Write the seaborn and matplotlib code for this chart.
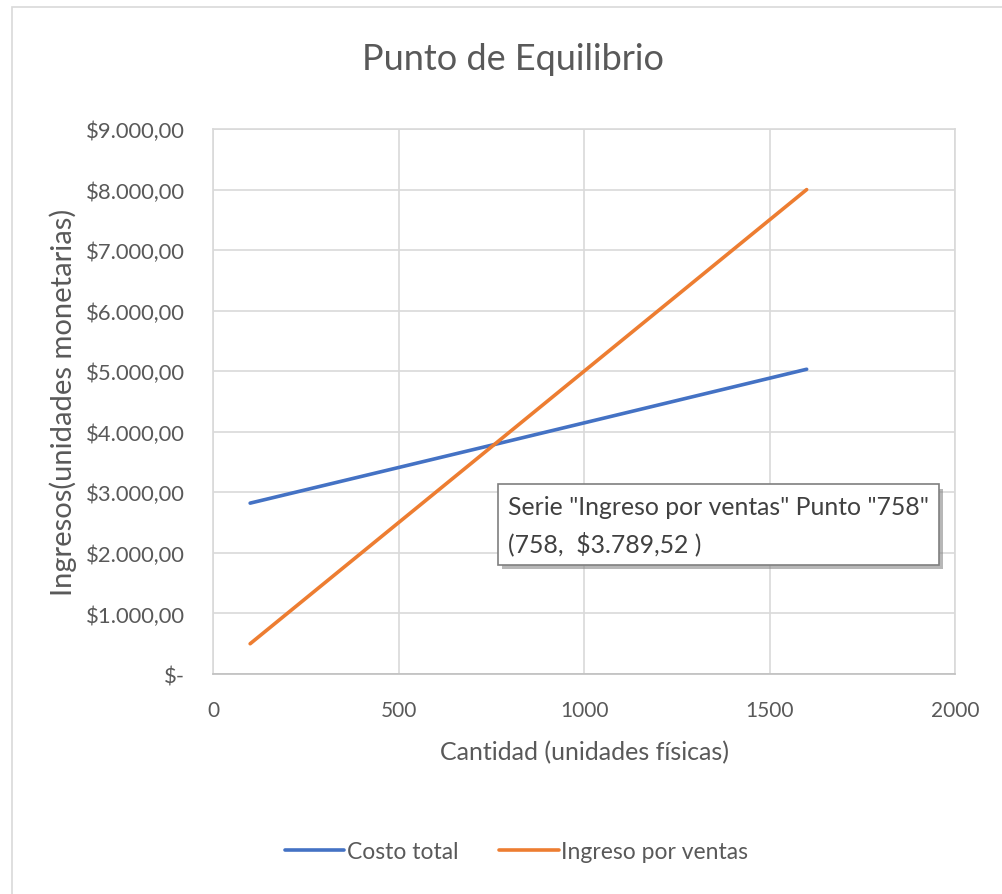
import matplotlib
matplotlib.use("Agg")
import matplotlib.pyplot as plt
import matplotlib.patheffects as pe
from matplotlib.patches import Rectangle
from matplotlib.lines import Line2D
from matplotlib.ticker import FuncFormatter
import seaborn as sns
import pandas as pd

# Break-even data: quantity vs. total cost and sales revenue
cantidad = [100, 758, 1600]
costo_total = [2822, 3789.52, 5033]
ingreso_ventas = [500, 3789.52, 8000]
punto_cantidad = 758
punto_valor = 3789.52

df = pd.DataFrame({
    "Cantidad": cantidad * 2,
    "Valor": costo_total + ingreso_ventas,
    "Serie": ["Costo total"] * len(cantidad) + ["Ingreso por ventas"] * len(cantidad),
})

sns.set_theme(style="whitegrid")
plt.rcParams["font.family"] = ["Lato", "DejaVu Sans"]

TEXT = "#595959"
GRID = "#D9D9D9"
AZUL = "#4472C4"
NARANJA = "#ED7D31"

fig = plt.figure(figsize=(10.03, 8.95), dpi=100)
ax = fig.add_axes([0.2124, 0.2458, 0.9522 - 0.2124, 0.8547 - 0.2458])

sns.lineplot(data=df, x="Cantidad", y="Valor", hue="Serie",
             palette={"Costo total": AZUL, "Ingreso por ventas": NARANJA},
             linewidth=2.6, ax=ax, legend=False)

ax.set_xlim(0, 2000)
ax.set_ylim(0, 9000)
ax.set_xticks([0, 500, 1000, 1500, 2000])
ax.set_yticks(range(0, 9001, 1000))


def moneda(v, pos):
    if v == 0:
        return "$-"
    s = f"{v:,.2f}".replace(",", "X").replace(".", ",").replace("X", ".")
    return "$" + s


ax.yaxis.set_major_formatter(FuncFormatter(moneda))
ax.tick_params(axis="both", length=0, colors=TEXT)
ax.tick_params(axis="y", pad=20, labelsize=15.8)
ax.tick_params(axis="x", pad=19, labelsize=15)
ax.grid(True, color=GRID, linewidth=1.2)
for s in ax.spines.values():
    s.set_color(GRID)
    s.set_linewidth(1.2)
ax.spines["bottom"].set_color("#BFBFBF")

ax.set_xlabel("Cantidad (unidades físicas)", fontsize=18, color=TEXT, labelpad=14)
ax.set_ylabel("Ingresos(unidades monetarias)", fontsize=21, color=TEXT, labelpad=7)
fig.text(0.511, 0.933, "Punto de Equilibrio", ha="center", va="center",
         fontsize=26, color=TEXT)

# Data-point tooltip for the break-even point
tip = ax.text(795, 2960,
              f'Serie "Ingreso por ventas" Punto "{punto_cantidad}"\n'
              f'({punto_cantidad},  {moneda(punto_valor, None)} )',
              ha="left", va="top", fontsize=17.8, color="#404040", linespacing=1.6,
              bbox=dict(boxstyle="square,pad=0.42", fc="white", ec="#7F7F7F", lw=1.2))
tip.get_bbox_patch().set_path_effects([
    pe.SimplePatchShadow(offset=(3, -3), shadow_rgbFace="#888888", alpha=0.6),
    pe.Normal(),
])

# Legend below the axis title
handles = [Line2D([], [], color=AZUL, lw=2.6),
           Line2D([], [], color=NARANJA, lw=2.6)]
fig.legend(handles, ["Costo total", "Ingreso por ventas"], loc="center",
           bbox_to_anchor=(0.515, 0.047), ncol=2, frameon=False, fontsize=16.5,
           labelcolor=TEXT, handlelength=2.6, handletextpad=0.1, columnspacing=1.8)

# Chart frame
fig.patches.append(Rectangle((12 / 1003, -0.01), 1.0, 1 - 8 / 895 + 0.01,
                             transform=fig.transFigure, fill=False,
                             ec=GRID, lw=1.2))

fig.savefig("out.png", dpi=100, facecolor="white")
